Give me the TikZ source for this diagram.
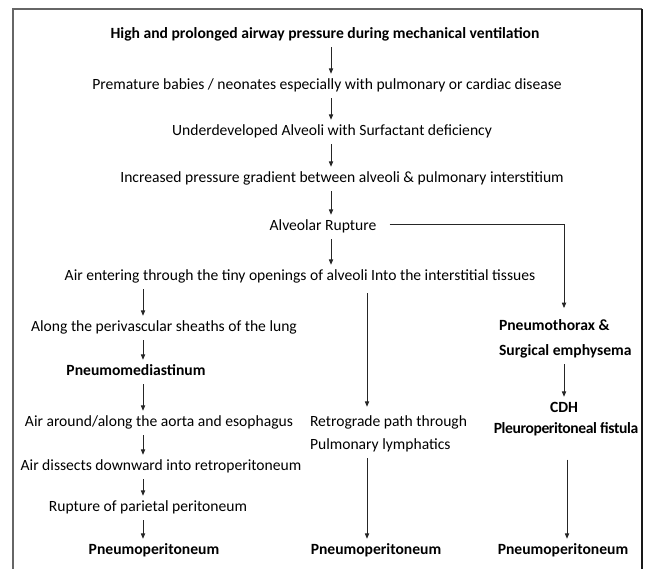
\documentclass[tikz,border=0pt]{standalone}
\usepackage{fontspec}
\setmainfont{Carlito}
\usetikzlibrary{arrows.meta}
\begin{document}
\begin{tikzpicture}[x=0.75pt,y=-0.75pt,
  txt/.style={inner sep=0pt, outer xsep=0pt, outer ysep=3.6pt, font=\fontsize{11.7pt}{14pt}\selectfont, text height=8.5pt, text depth=2.7pt},
  btxt/.style={txt, font=\fontsize{11.7pt}{14pt}\selectfont\bfseries},
  arr/.style={draw=black!85, line width=0.6pt, -{Triangle[length=4pt,width=3.2pt]}},
]
\useasboundingbox (0,0) rectangle (645,568);
\draw[black!60, line width=1.1pt] (13,600) -- (13,9) -- (642,9);
\draw[black!90, line width=1.1pt] (642,9) -- (642,600);

\coordinate (cx0) at (331,0);
\coordinate (cxl) at (143,0);
\coordinate (cxm) at (367,0);
\coordinate (cxr) at (564,0);
\coordinate (cxr2) at (567,0);

\node[btxt] (t0) at (325,35) {High and prolonged airway pressure during mechanical ventilation};
\node[txt] (t1) at (327,86) {Premature babies / neonates especially with pulmonary or cardiac disease};
\node[txt] (t2) at (332,132) {Underdeveloped Alveoli with Surfactant deficiency};
\node[txt] (t3) at (342,179) {Increased pressure gradient between alveoli \& pulmonary interstitium};
\node[txt] (t4) at (323,227) {Alveolar Rupture};
\node[txt] (t5) at (300,277) {Air entering through the tiny openings of alveoli Into the interstitial tissues};

\node[txt] (l1) at (164,328) {Along the perivascular sheaths of the lung};
\node[btxt] (l2) at (136,372) {Pneumomediastinum};
\node[txt] (l3) at (159,423) {Air around/along the aorta and esophagus};
\node[txt] (l4) at (161,467) {Air dissects downward into retroperitoneum};
\node[txt] (l5) at (148,508) {Rupture of parietal peritoneum};
\node[btxt] (l6) at (154,551) {Pneumoperitoneum};

\node[txt, anchor=west] (m1a) at (310,423) {Retrograde path through};
\node[txt, anchor=west] (m1b) at (310,446) {Pulmonary lymphatics};
\node[btxt] (m2) at (376,551) {Pneumoperitoneum};

\node[btxt, anchor=west] (r1a) at (499,327) {Pneumothorax \&};
\node[btxt, anchor=west] (r1b) at (499,352) {Surgical emphysema};
\node[btxt] (r2a) at (564,409) {CDH};
\node[btxt, font=\fontsize{11.7pt}{14pt}\selectfont\bfseries\addfontfeatures{LetterSpace=-2.5}] (r2b) at (566,430) {Pleuroperitoneal fistula};
\node[btxt] (r3) at (563,551) {Pneumoperitoneum};

\draw[arr] (t0.south -| cx0) -- (t1.north -| cx0);
\draw[arr] (t1.south -| cx0) -- (t2.north -| cx0);
\draw[arr] (t2.south -| cx0) -- (t3.north -| cx0);
\draw[arr] (t3.south -| cx0) -- (t4.north -| cx0);
\draw[arr] (t4.south -| cx0) -- (t5.north -| cx0);

\draw[arr] (t5.south -| cxl) -- (l1.north -| cxl);
\draw[arr] (l1.south -| cxl) -- (l2.north -| cxl);
\draw[arr] (l2.south -| cxl) -- (l3.north -| cxl);
\draw[arr] (l3.south -| cxl) -- (l4.north -| cxl);
\draw[arr] (l4.south -| cxl) -- (l5.north -| cxl);
\draw[arr] (l5.south -| cxl) -- (l6.north -| cxl);

\draw[arr, shorten <=3pt, shorten >=3pt] (t5.south -| cxm) -- (m1a.north -| cxm);
\draw[arr] (m1b.south -| cxm) -- (m2.north -| cxm);

\draw[arr, shorten >=5pt] ([shift={(10pt,2pt)}]t4.east) -| (r1a.north -| cxr);
\draw[arr] (r1b.south -| cxr) -- (r2a.north -| cxr);
\draw[arr, shorten <=13pt] (r2b.south -| cxr2) -- (r3.north -| cxr2);
\end{tikzpicture}
\end{document}
